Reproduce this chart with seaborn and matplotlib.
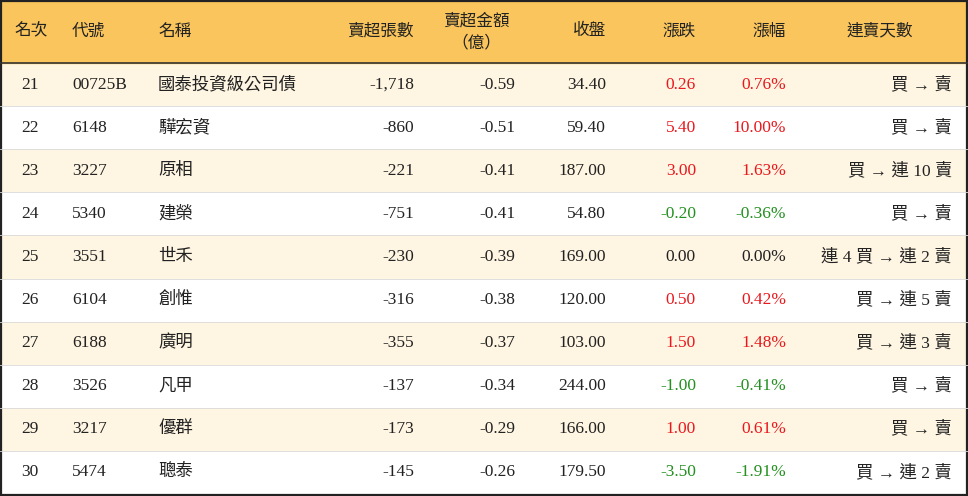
import matplotlib
matplotlib.use("Agg")
import matplotlib.pyplot as plt
from matplotlib.colors import ListedColormap
import numpy as np
import seaborn as sns

plt.rcParams["font.family"] = ["Noto Sans CJK TC", "DejaVu Sans"]

ranks = [21, 22, 23, 24, 25, 26, 27, 28, 29, 30]
codes = ["00725B", "6148", "3227", "5340", "3551", "6104", "6188", "3526", "3217", "5474"]
names = ["國泰投資級公司債", "驊宏資", "原相", "建榮", "世禾", "創惟", "廣明", "凡甲", "優群", "聰泰"]
net_sell_lots = [-1718, -860, -221, -751, -230, -316, -355, -137, -173, -145]
net_sell_amt = [-0.59, -0.51, -0.41, -0.41, -0.39, -0.38, -0.37, -0.34, -0.29, -0.26]
close = [34.40, 59.40, 187.00, 54.80, 169.00, 120.00, 103.00, 244.00, 166.00, 179.50]
change = [0.26, 5.40, 3.00, -0.20, 0.00, 0.50, 1.50, -1.00, 1.00, -3.50]
pct = [0.76, 10.00, 1.63, -0.36, 0.00, 0.42, 1.48, -0.41, 0.61, -1.91]
streak = ["買 → 賣", "買 → 賣", "買 → 連 10 賣", "買 → 賣", "連 4 買 → 連 2 賣",
          "買 → 連 5 賣", "買 → 連 3 賣", "買 → 賣", "買 → 賣", "買 → 連 2 賣"]

W, H = 968, 496
HEAD = 63
ROW = (H - 2 - HEAD) / len(ranks)

fig = plt.figure(figsize=(W / 100, H / 100), dpi=100)
ax = fig.add_axes([0, 0, 1, 1])

# striped row backgrounds via heatmap
stripe = np.array([[i % 2] for i in range(len(ranks))])
sns.heatmap(stripe, ax=ax, cmap=ListedColormap(["#FEF5E2", "#FFFFFF"]), cbar=False,
            xticklabels=False, yticklabels=False)
ax.set_xlim(0, 1)
ax.set_ylim(len(ranks), 0)
ax.set_position([0, 2 / H, 1, (H - 2 - HEAD) / H])
ax.axis("off")

ov = fig.add_axes([0, 0, 1, 1], facecolor="none")
ov.set_xlim(0, W)
ov.set_ylim(H, 0)
ov.axis("off")
ov.add_patch(plt.Rectangle((0, 0), W, HEAD, color="#F9C55C", zorder=0))
ov.plot([0, W], [HEAD, HEAD], color="#333333", lw=1.2)
for i in range(1, len(ranks)):
    y = HEAD + i * ROW
    ov.plot([0, W], [y, y], color="#D9D9D9", lw=0.6)
ov.add_patch(plt.Rectangle((1, 1), W - 2, H - 2, fill=False, ec="#222222", lw=1.6))

fs = 12
hdr = [("名次", 14, "left"), ("代號", 72, "left"), ("名稱", 158, "left"),
       ("賣超張數", 414, "right"), ("收盤", 606, "right"), ("漲跌", 696, "right"),
       ("漲幅", 786, "right"), ("連賣天數", 880, "center")]
for t, x, ha in hdr:
    ov.text(x, 31, t, ha=ha, va="center", fontsize=fs, color="#222222")
ov.text(476, 21, "賣超金額", ha="center", va="center", fontsize=fs, color="#222222")
ov.text(476, 43, "（億）", ha="center", va="center", fontsize=fs, color="#222222")

def col(v):
    return "#E8191E" if v > 0 else ("#23901F" if v < 0 else "#222222")

for i in range(len(ranks)):
    y = HEAD + (i + 0.5) * ROW
    k = dict(va="center", fontsize=12.5, family=["Liberation Serif", "Noto Sans CJK TC"])
    ov.text(30, y, str(ranks[i]), ha="center", color="#222222", **k)
    ov.text(72, y, codes[i], ha="left", color="#222222", **k)
    ov.text(158, y, names[i], ha="left", color="#222222", **k)
    ov.text(414, y, f"{net_sell_lots[i]:,}", ha="right", color="#222222", **k)
    ov.text(515, y, f"{net_sell_amt[i]:.2f}", ha="right", color="#222222", **k)
    ov.text(606, y, f"{close[i]:.2f}", ha="right", color="#222222", **k)
    ov.text(696, y, f"{change[i]:.2f}", ha="right", color=col(change[i]), **k)
    ov.text(786, y, f"{pct[i]:.2f}%", ha="right", color=col(pct[i]), **k)
    ov.text(952, y, streak[i], ha="right", color="#222222", **k)

fig.savefig("out.png", dpi=100)
